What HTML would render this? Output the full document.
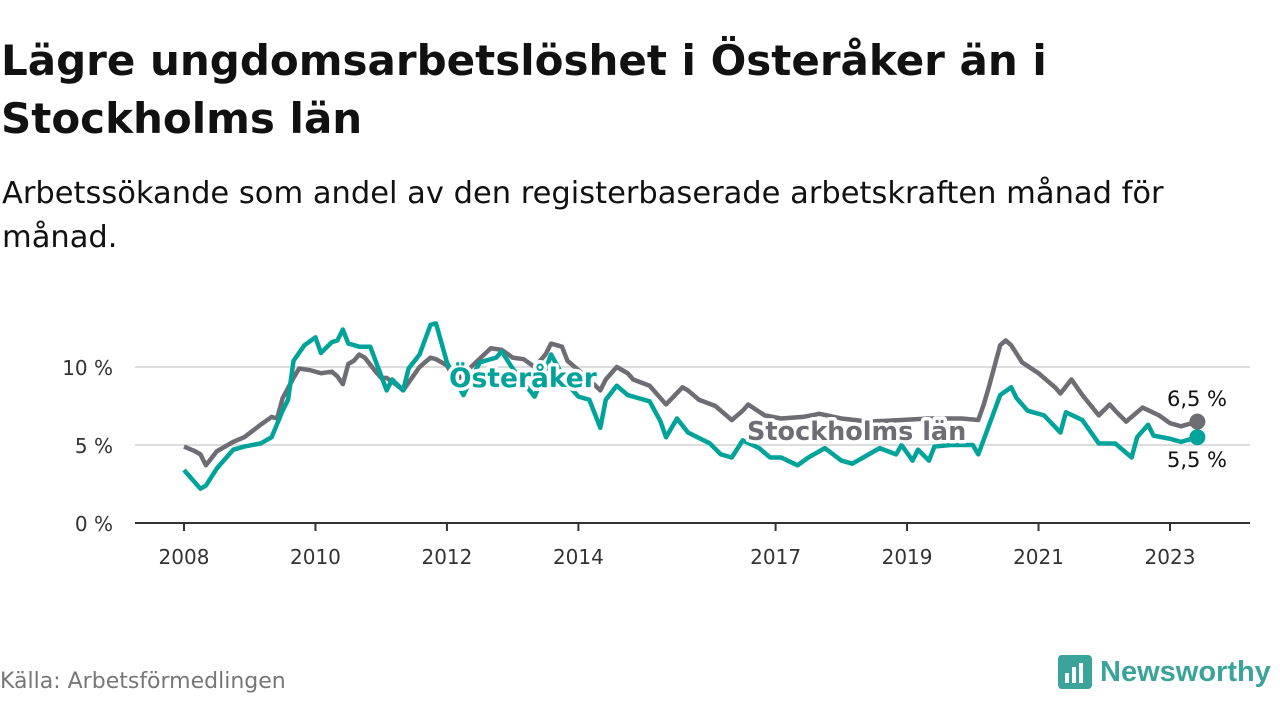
<!DOCTYPE html>
<html><head><meta charset="utf-8">
<style>
body{margin:0;width:1280px;height:720px;background:#fff;font-family:"DejaVu Sans","Liberation Sans",sans-serif;overflow:hidden;position:relative}
h1{position:absolute;left:1px;top:32px;margin:0;font-size:42px;line-height:58px;font-weight:bold;color:#111}
.sub{position:absolute;left:2px;top:172px;margin:0;font-size:30.5px;line-height:44px;color:#111}
.src{position:absolute;left:0;top:669px;font-size:22px;color:#777}
.logo{position:absolute;left:1058px;top:655px;display:flex;align-items:center;gap:8px;color:#3aa39a;font-size:29px;font-weight:bold;font-family:"Liberation Sans",sans-serif}
svg{position:absolute;left:0;top:0}
</style></head><body>
<h1>Lägre ungdomsarbetslöshet i Österåker än i<br>Stockholms län</h1>
<p class="sub">Arbetssökande som andel av den registerbaserade arbetskraften månad för<br>månad.</p>
<div class="src">Källa: Arbetsförmedlingen</div>
<div class="logo"><svg style="position:static" width="34" height="34" viewBox="0 0 34 34"><rect width="34" height="34" rx="4" fill="#3aa39a"/><rect x="7" y="18" width="4" height="10" fill="#fff"/><rect x="14" y="12" width="4" height="16" fill="#fff"/><rect x="21" y="8" width="4" height="20" fill="#fff"/></svg><span>Newsworthy</span></div>
<svg id="chart" width="1280" height="720"></svg>
<script>
const tickYears=[2008,2010,2012,2014,2017,2019,2021,2023];
const yTicks=[0,5,10];
const yTickLabels=["0 %","5 %","10 %"];
const stoMonths=[0,2,3,4,6,9,11,14,16,17,18,20,21,23,25,27,28,29,30,31,32,33,35,36,37,39,40,41,43,45,46,48,49,50,53,56,58,60,62,64,66,67,69,70,73,76,77,79,81,82,85,88,91,92,94,97,100,102,103,106,109,113,116,120,125,131,136,142,145,146,147,149,150,151,153,156,157,159,160,162,164,167,169,170,172,175,178,180,182,185];
const stoValues=[4.9,4.6,4.4,3.7,4.6,5.2,5.5,6.3,6.8,6.7,8.0,9.3,9.9,9.8,9.6,9.7,9.4,8.9,10.2,10.4,10.8,10.6,9.7,9.3,9.3,8.8,8.5,9.0,10.0,10.6,10.5,10.1,9.5,9.2,10.2,11.2,11.1,10.6,10.5,10.0,10.8,11.5,11.3,10.4,9.5,8.5,9.2,10.0,9.6,9.2,8.8,7.6,8.7,8.5,7.9,7.5,6.6,7.2,7.6,6.9,6.7,6.8,7.0,6.7,6.5,6.6,6.7,6.7,6.6,7.6,8.8,11.4,11.7,11.4,10.3,9.6,9.3,8.7,8.3,9.2,8.2,6.9,7.6,7.2,6.5,7.4,6.9,6.4,6.2,6.5];
const ostMonths=[0,3,4,6,9,11,14,16,18,19,20,22,24,25,27,28,29,30,32,34,37,38,40,41,43,45,46,48,51,54,57,58,60,64,66,67,70,72,74,76,77,79,81,85,87,88,90,92,96,98,100,102,105,107,109,112,114,117,120,122,125,127,130,131,133,134,136,137,140,144,145,149,151,152,154,157,160,161,164,167,170,173,174,176,177,180,182,185];
const ostValues=[3.4,2.2,2.4,3.5,4.7,4.9,5.1,5.5,7.2,7.9,10.4,11.4,11.9,10.9,11.6,11.7,12.4,11.5,11.3,11.3,8.5,9.2,8.5,9.9,10.8,12.7,12.8,10.3,8.2,10.3,10.6,11.0,9.9,8.1,9.8,10.8,8.9,8.1,7.9,6.1,7.9,8.8,8.2,7.8,6.5,5.5,6.7,5.8,5.1,4.4,4.2,5.3,4.8,4.2,4.2,3.7,4.2,4.8,4.0,3.8,4.4,4.8,4.4,5.0,4.0,4.7,4.0,4.9,5.0,5.0,4.4,8.2,8.7,8.0,7.2,6.9,5.8,7.1,6.6,5.1,5.1,4.2,5.5,6.3,5.6,5.4,5.2,5.5];
const NS="http://www.w3.org/2000/svg";
const svg=document.getElementById('chart');
const x=m=>184+m*(1170-184)/180;
const y=v=>523-v*15.6;
function el(t,a,p){const e=document.createElementNS(NS,t);for(const k in a)e.setAttribute(k,a[k]);(p||svg).appendChild(e);return e;}
yTicks.forEach((t,i)=>{
 if(t>0){const g=el('line',{x1:135,x2:1250,y1:y(t),y2:y(t),stroke:'#ddd','stroke-width':2});
 
 }
 const l=el('text',{x:113,y:y(t)+8,'text-anchor':'end','font-size':20,fill:'#333'});l.textContent=yTickLabels[i];
 
 
});
const ax=el('line',{x1:135,x2:1250,y1:523,y2:523,stroke:'#333','stroke-width':2});


tickYears.forEach(yr=>{
 const m=(yr-2008)*12;
 const tk=el('line',{x1:x(m),x2:x(m),y1:523,y2:531,stroke:'#333','stroke-width':2});
 
 
 const l=el('text',{x:x(m),y:564,'text-anchor':'middle','font-size':20,fill:'#333'});l.textContent=yr;
 
 
});
function line(ms,vs,c,name){
 const p=el('polyline',{points:ms.map((m,i)=>x(m)+','+y(vs[i])).join(' '),fill:'none',stroke:c,'stroke-width':4.5,'stroke-linejoin':'round'});
 
 
}
line(stoMonths,stoValues,'#6e6d73','stockholm-line');
line(ostMonths,ostValues,'#00a39a','osteraker-line');
const d1=el('circle',{cx:x(stoMonths[stoMonths.length-1]),cy:y(stoValues[stoValues.length-1]),r:8,fill:'#6e6d73'});


const d2=el('circle',{cx:x(ostMonths[ostMonths.length-1]),cy:y(ostValues[ostValues.length-1]),r:8,fill:'#00a39a'});


function lab(t,xx,yy,c,fs,w,name,anchor){
 const l=el('text',{x:xx,y:yy,'font-size':fs,'font-weight':w,fill:c,stroke:'#fff','stroke-width':7,'paint-order':'stroke','stroke-linejoin':'round','text-anchor':anchor||'start'});
 l.textContent=t;
 
 
}
lab('Österåker',449,387,'#00a39a',26.5,'bold','osteraker-label');
lab('Stockholms län',747,440,'#6e6d73',25.5,'bold','stockholm-label');
lab(String(stoValues[stoValues.length-1]).replace('.',',')+' %',1197,406,'#111',21,'normal','stockholm-value-label','middle');
lab(String(ostValues[ostValues.length-1]).replace('.',',')+' %',1197,467,'#111',21,'normal','osteraker-value-label','middle');
</script>
</body></html>
